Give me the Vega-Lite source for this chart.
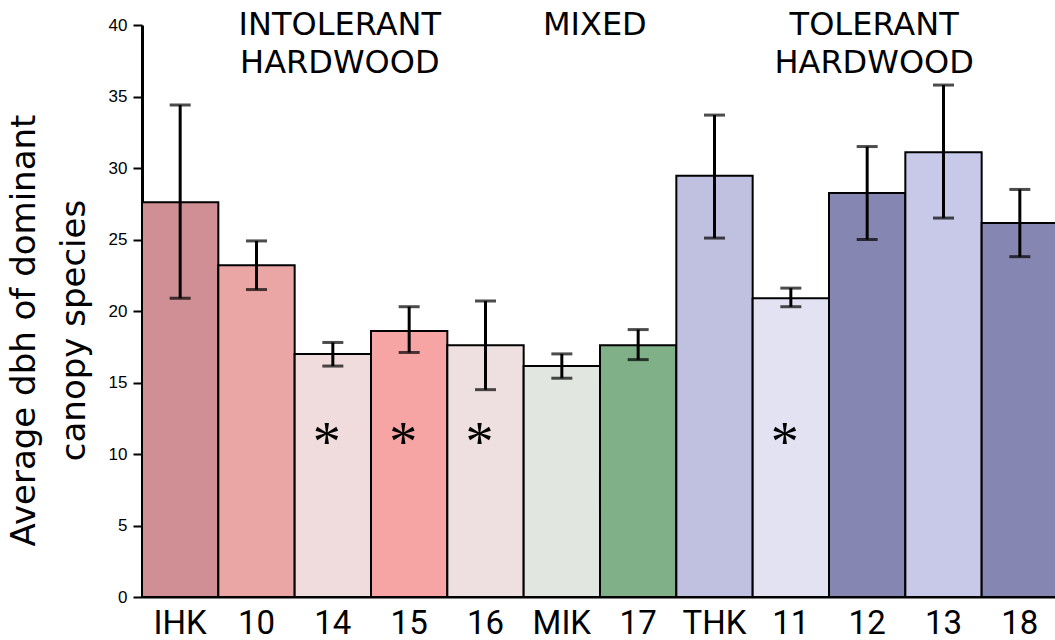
{
  "$schema": "https://vega.github.io/schema/vega-lite/v6.json",
  "autosize": "none",
  "width": 916,
  "height": 572,
  "padding": {"left": 142, "top": 25, "right": 0, "bottom": 43},
  "background": "white",
  "config": {"view": {"stroke": null}},
  "datasets": {
    "bars": [
      {"site": "IHK", "dbh": 27.6, "lo": 20.9, "hi": 34.4, "color": "#cf8f95", "star": ""},
      {"site": "10", "dbh": 23.2, "lo": 21.5, "hi": 24.9, "color": "#eaa5a5", "star": ""},
      {"site": "14", "dbh": 17.0, "lo": 16.15, "hi": 17.8, "color": "#f0dcdc", "star": "*"},
      {"site": "15", "dbh": 18.6, "lo": 17.1, "hi": 20.3, "color": "#f6a4a4", "star": "*"},
      {"site": "16", "dbh": 17.6, "lo": 14.5, "hi": 20.7, "color": "#eee0e0", "star": "*"},
      {"site": "MIK", "dbh": 16.15, "lo": 15.3, "hi": 17.0, "color": "#e2e6e0", "star": ""},
      {"site": "17", "dbh": 17.6, "lo": 16.6, "hi": 18.7, "color": "#80b088", "star": ""},
      {"site": "THK", "dbh": 29.45, "lo": 25.1, "hi": 33.7, "color": "#c0c0e0", "star": ""},
      {"site": "11", "dbh": 20.9, "lo": 20.3, "hi": 21.6, "color": "#e2e2f2", "star": "*"},
      {"site": "12", "dbh": 28.25, "lo": 25.0, "hi": 31.5, "color": "#8686b2", "star": ""},
      {"site": "13", "dbh": 31.1, "lo": 26.5, "hi": 35.8, "color": "#c8c8e8", "star": ""},
      {"site": "18", "dbh": 26.15, "lo": 23.8, "hi": 28.5, "color": "#8686b2", "star": ""}
    ],
    "groups": [
      {"site": "14", "label": "INTOLERANT\nHARDWOOD"},
      {"site": "12", "label": "TOLERANT\nHARDWOOD"}
    ],
    "groups2": [
      {"site": "MIK", "label": "MIXED"}
    ]
  },
  "layer": [
    {
      "data": {"name": "bars"},
      "mark": {"type": "bar", "stroke": "black", "strokeWidth": 2},
      "encoding": {
        "x": {
          "field": "site", "type": "nominal", "sort": null,
          "scale": {"paddingInner": 0, "paddingOuter": 0},
          "axis": {
            "title": null, "labelAngle": 0, "ticks": false,
            "labelFont": "Roboto", "labelFontSize": 33,
            "labelColor": "black", "labelPadding": 10,
            "domainColor": "black", "domainWidth": 2
          }
        },
        "y": {
          "field": "dbh", "type": "quantitative",
          "scale": {"domain": [0, 40]},
          "axis": {
            "title": ["Average dbh of dominant", "canopy species"],
            "values": [0, 5, 10, 15, 20, 25, 30, 35, 40],
            "grid": false,
            "labelFont": "Liberation Sans", "labelFontSize": 17, "labelColor": "black",
            "tickColor": "black", "tickSize": 9, "tickWidth": 2, "labelPadding": 6,
            "domainColor": "black", "domainWidth": 3,
            "titleFont": "DejaVu Sans", "titleFontSize": 34, "titleFontWeight": "normal",
            "titleColor": "black", "titleLineHeight": 50,
            "titleX": -108, "titleY": 305, "titleAngle": -90, "titleAlign": "center",
            "titleBaseline": "alphabetic"
          }
        },
        "fill": {"field": "color", "type": "nominal", "scale": null}
      }
    },
    {
      "data": {"name": "bars"},
      "mark": {"type": "rule", "color": "black", "strokeWidth": 3},
      "encoding": {
        "x": {"field": "site", "type": "nominal", "sort": null},
        "y": {"field": "lo", "type": "quantitative"},
        "y2": {"field": "hi"}
      }
    },
    {
      "data": {"name": "bars"},
      "mark": {"type": "tick", "color": "black", "thickness": 3, "size": 21},
      "encoding": {
        "x": {"field": "site", "type": "nominal", "sort": null},
        "y": {"field": "lo", "type": "quantitative"}
      }
    },
    {
      "data": {"name": "bars"},
      "mark": {"type": "tick", "color": "black", "thickness": 3, "size": 21},
      "encoding": {
        "x": {"field": "site", "type": "nominal", "sort": null},
        "y": {"field": "hi", "type": "quantitative"}
      }
    },
    {
      "data": {"name": "bars"},
      "mark": {"type": "text", "font": "Liberation Serif", "fontSize": 56, "color": "black", "baseline": "middle", "dx": -6, "dy": 4},
      "encoding": {
        "x": {"field": "site", "type": "nominal", "sort": null},
        "y": {"datum": 11},
        "text": {"field": "star"}
      }
    },
    {
      "data": {"name": "groups"},
      "mark": {"type": "text", "font": "DejaVu Sans", "fontSize": 32, "color": "black", "baseline": "middle", "align": "center", "lineBreak": "\n", "lineHeight": 38, "dx": 7},
      "encoding": {
        "x": {"field": "site", "type": "nominal", "sort": null},
        "y": {"datum": 40},
        "text": {"field": "label"}
      }
    },
    {
      "data": {"name": "groups2"},
      "mark": {"type": "text", "font": "DejaVu Sans", "fontSize": 32, "color": "black", "baseline": "middle", "align": "center", "dx": 33},
      "encoding": {
        "x": {"field": "site", "type": "nominal", "sort": null},
        "y": {"datum": 40},
        "text": {"field": "label"}
      }
    }
  ]
}
